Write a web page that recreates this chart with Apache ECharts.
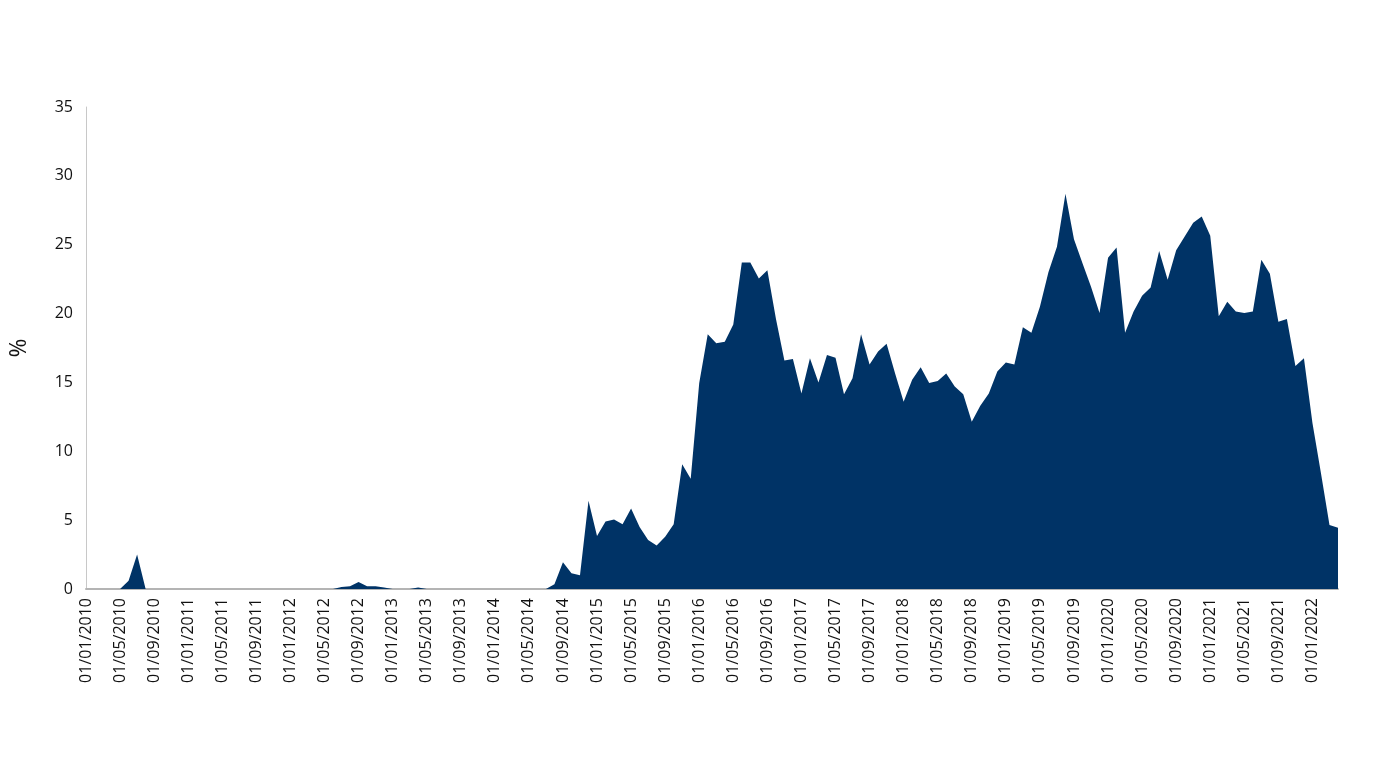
<!DOCTYPE html>
<html>
<head>
<meta charset="utf-8">
<script src="https://cdn.jsdelivr.net/npm/echarts@6/dist/echarts.min.js"></script>
<style>
html,body{margin:0;padding:0;background:#fff;}
#chart{width:1384px;height:778px;}
</style>
</head>
<body>
<div id="chart"></div>
<script>
// Monthly observations, 01/01/2010 .. 01/04/2022
var startYear = 2010, startMonth = 1, monthCount = 148;
var values = [
  0,0,0,0,0,0.6,2.5,0,0,0,0,0,
  0,0,0,0,0,0,0,0,0,0,0,0,
  0,0,0,0,0,0,0.15,0.2,0.5,0.2,0.2,0.1,
  0,0,0,0.1,0,0,0,0,0,0,0,0,
  0,0,0,0,0,0,0,0.35,1.95,1.15,1.0,6.4,
  3.85,4.9,5.05,4.7,5.85,4.5,3.55,3.15,3.8,4.7,9.05,8.0,
  14.95,18.5,17.85,17.95,19.2,23.7,23.7,22.55,23.15,19.65,16.6,16.7,
  14.2,16.75,15.0,17.0,16.8,14.15,15.3,18.5,16.3,17.25,17.8,15.65,
  13.6,15.2,16.1,14.95,15.1,15.65,14.7,14.15,12.15,13.3,14.2,15.8,
  16.45,16.3,19.0,18.6,20.5,23.0,24.85,28.7,25.4,23.65,21.95,20.05,
  24.05,24.8,18.6,20.15,21.3,21.9,24.55,22.45,24.6,25.6,26.6,27.05,
  25.65,19.8,20.85,20.15,20.05,20.15,23.9,22.9,19.4,19.6,16.2,16.75,
  12.05,8.4,4.65,4.45
];
var yTicks = [0,5,10,15,20,25,30,35];
var yAxisName = '%';

var categories = [];
for (var k = 0; k < monthCount; k++) {
  var m = (startMonth - 1 + k) % 12 + 1;
  var y = startYear + Math.floor((startMonth - 1 + k) / 12);
  categories.push('01/' + (m < 10 ? '0' + m : m) + '/' + y);
}

var chart = echarts.init(document.getElementById('chart'), null, {renderer:'canvas'});
chart.setOption({
  animation: false,
  backgroundColor: '#ffffff',
  grid: {left: 83, right: 46, top: 107, bottom: 189, containLabel: false},
  xAxis: {
    type: 'category',
    data: categories,
    boundaryGap: false,
    axisLine: {show: true, lineStyle: {color: '#b4b4b4', width: 2}},
    axisTick: {show: false},
    axisLabel: {
      interval: 3,
      rotate: 90,
      margin: 9,
      color: '#111111',
      fontFamily: 'Open Sans',
      fontSize: 16
    },
    splitLine: {show: false}
  },
  yAxis: {
    type: 'value',
    min: yTicks[0],
    max: yTicks[yTicks.length - 1],
    interval: 5,
    name: yAxisName,
    nameLocation: 'middle',
    nameGap: 55,
    nameRotate: 90,
    nameTextStyle: {color: '#111111', fontFamily: 'Open Sans', fontSize: 23},
    axisLine: {show: true, lineStyle: {color: '#c8c8c8', width: 1}},
    axisTick: {show: false},
    axisLabel: {color: '#111111', fontFamily: 'Open Sans', fontSize: 16, margin: 13},
    splitLine: {show: false}
  },
  series: [{
    type: 'line',
    data: values,
    showSymbol: false,
    symbol: 'none',
    lineStyle: {width: 0, color: '#003366'},
    areaStyle: {color: '#003366', opacity: 1},
    itemStyle: {color: '#003366'}
  }]
});
</script>
</body>
</html>
